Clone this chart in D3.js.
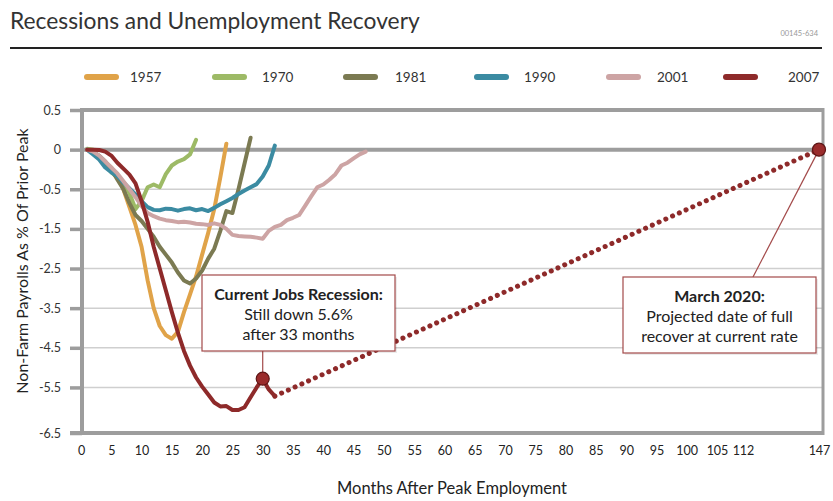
<!DOCTYPE html>
<html>
<head>
<meta charset="utf-8">
<script src="https://cdn.jsdelivr.net/npm/d3@7"></script>
<style>
  body { margin: 0; background: #fff; }
  svg { font-family: Lato, 'Open Sans', sans-serif; }
</style>
</head>
<body>
<svg id="canvas"></svg>
<script>
// each array starts at month 1 after the peak (value i -> month i + 1)
let y1957 = [0, -0.08, -0.2, -0.32, -0.45, -0.65, -1.0, -1.45, -1.9, -2.45, -3.3, -4.0, -4.45, -4.68, -4.77, -4.6, -4.1, -3.65, -3.2, -2.65, -2.1, -1.5, -0.7, 0.15];
let y1970 = [0.02, 0, -0.2, -0.38, -0.57, -0.7, -0.85, -1.1, -1.5, -1.3, -0.95, -0.88, -0.95, -0.62, -0.4, -0.3, -0.24, -0.12, 0.25];
let y1981 = [0, -0.05, -0.15, -0.3, -0.5, -0.75, -1.0, -1.35, -1.65, -1.8, -2.0, -2.2, -2.45, -2.65, -2.85, -3.1, -3.3, -3.38, -3.25, -3.05, -2.75, -2.5, -2.05, -1.55, -1.6, -1.0, -0.35, 0.3];
let y1990 = [0, -0.12, -0.25, -0.45, -0.57, -0.67, -0.83, -0.98, -1.13, -1.3, -1.45, -1.52, -1.53, -1.49, -1.5, -1.54, -1.5, -1.48, -1.53, -1.5, -1.55, -1.47, -1.38, -1.3, -1.22, -1.12, -1.03, -0.95, -0.87, -0.68, -0.4, 0.1];
let y2001 = [0, -0.05, -0.15, -0.3, -0.45, -0.6, -0.8, -1.0, -1.2, -1.42, -1.6, -1.68, -1.74, -1.78, -1.8, -1.83, -1.82, -1.84, -1.87, -1.88, -1.9, -1.86, -1.9, -2.0, -2.15, -2.18, -2.19, -2.2, -2.22, -2.25, -2.05, -1.95, -1.9, -1.78, -1.72, -1.65, -1.42, -1.18, -0.95, -0.88, -0.76, -0.62, -0.4, -0.33, -0.22, -0.12, -0.05];
let y2007 = [0, 0, -0.01, -0.05, -0.15, -0.33, -0.48, -0.63, -0.85, -1.3, -1.82, -2.45, -3.0, -3.55, -4.1, -4.62, -5.08, -5.45, -5.75, -5.98, -6.18, -6.38, -6.48, -6.47, -6.57, -6.57, -6.5, -6.25, -6.0, -5.78, -6.05, -6.22];

let seriesNames = ['1957', '1970', '1981', '1990', '2001', '2007'];
let seriesValues = [y1957, y1970, y1981, y1990, y2001, y2007];
let seriesColors = ['#e0a349', '#9dba66', '#7b7a52', '#3b8ba2', '#cda4a4', '#8e2a2a'];

let xTicks = [0, 5, 10, 15, 20, 25, 30, 35, 40, 45, 50, 55, 60, 65, 70, 75, 80, 85, 90, 95, 100, 105, 112, 147];
let yTicks = [1, 0, -1, -2, -3, -4, -5, -6, -7.15];
let yTickLabels = ['0.5', '0', '-0.5', '-1.5', '-2.5', '-3.5', '-4.5', '-5.5', '-6.5'];

let currentMonth = 30;
let recoveryMonth = 147;

let width = 833;
let height = 501;
let plotLeft = 82;
let plotRight = 823;
let plotTop = 110;
let plotBottom = 433;

let canvas = d3.select('#canvas').attr('width', width).attr('height', height);

let xScale = d3.scaleLinear().domain([0, 105, 112, 147]).range([81, 717, 743, 819]);
let yScale = d3.scaleLinear().domain([1, -7.15]).range([plotTop, plotBottom]);

// title block
canvas.append('text').attr('x', 10).attr('y', 29)
	.attr('font-size', 22.8).attr('fill', '#333')
	.text('Recessions and Unemployment Recovery');
canvas.append('text').attr('x', 818).attr('y', 36).attr('text-anchor', 'end')
	.attr('font-size', 7.5).attr('fill', '#999').text('00145-634');
canvas.append('line').attr('x1', 10).attr('x2', 822).attr('y1', 48).attr('y2', 48)
	.attr('stroke', '#222').attr('stroke-width', 2);

// legend
let legendX = [84, 212, 343, 474, 606, 723];
let legendTextX = [130, 262, 395, 524, 657, 788];
let legend = canvas.append('g');
seriesNames.forEach((name, i) => {
	legend.append('line')
		.attr('x1', legendX[i] + 3).attr('x2', legendX[i] + 32)
		.attr('y1', 77).attr('y2', 77)
		.attr('stroke', seriesColors[i]).attr('stroke-width', 6)
		.attr('stroke-linecap', 'round');
	legend.append('text').attr('x', legendTextX[i]).attr('y', 82)
		.attr('font-size', 13.5).attr('fill', '#333').text(name);
});

// gridlines
canvas.append('g').selectAll('line')
	.data(yTicks)
	.join('line')
	.attr('x1', plotLeft).attr('x2', plotRight)
	.attr('y1', d => yScale(d)).attr('y2', d => yScale(d))
	.attr('stroke', d => (d === 0 || d === yTicks[0]) ? '#9d9d9d' : '#cfcfcf')
	.attr('stroke-width', d => (d === 0 || d === yTicks[0]) ? 4 : 1.5);

// axes
let yAxis = d3.axisLeft(yScale).tickValues(yTicks)
	.tickFormat((d, i) => yTickLabels[i]).tickSize(12).tickPadding(9);
let gy = canvas.append('g').attr('transform', `translate(${plotLeft}, 0)`).call(yAxis);
gy.select('.domain').remove();
gy.selectAll('line').attr('stroke', '#9d9d9d').attr('stroke-width', 3.5);
gy.selectAll('text').attr('font-size', 12.5).attr('fill', '#333').attr('font-family', 'Lato, sans-serif');

let xAxis = d3.axisBottom(xScale).tickValues(xTicks).tickSize(0).tickPadding(13);
let gx = canvas.append('g').attr('transform', `translate(0, ${plotBottom})`).call(xAxis);
gx.select('.domain').remove();
gx.selectAll('text').attr('font-size', 12.5).attr('fill', '#222').attr('font-family', 'Lato, sans-serif');

// frame
canvas.append('line').attr('x1', plotLeft).attr('x2', plotLeft).attr('y1', plotTop - 2).attr('y2', plotBottom + 2)
	.attr('stroke', '#9d9d9d').attr('stroke-width', 4);
canvas.append('line').attr('x1', plotRight).attr('x2', plotRight).attr('y1', plotTop - 2).attr('y2', plotBottom + 2)
	.attr('stroke', '#9d9d9d').attr('stroke-width', 3);
canvas.append('line').attr('x1', 70).attr('x2', plotRight + 1).attr('y1', plotBottom).attr('y2', plotBottom)
	.attr('stroke', '#9d9d9d').attr('stroke-width', 4);

// axis titles
canvas.append('text').attr('x', 452).attr('y', 494).attr('text-anchor', 'middle')
	.attr('font-size', 16.5).attr('fill', '#222').text('Months After Peak Employment');
canvas.append('text').attr('transform', 'translate(28, 261) rotate(-90)').attr('text-anchor', 'middle')
	.attr('font-size', 16).attr('fill', '#222').text('Non-Farm Payrolls As % Of Prior Peak');

// projection to full recovery
let lastMonth = y2007.length;
let projection = [[lastMonth, y2007[lastMonth - 1]], [recoveryMonth, 0]];
canvas.append('path')
	.attr('d', d3.line().x(d => xScale(d[0])).y(d => yScale(d[1]))(projection))
	.attr('fill', 'none').attr('stroke', '#8e2a2a').attr('stroke-width', 5)
	.attr('stroke-linecap', 'round').attr('stroke-dasharray', '0.1 7.3');

// series lines
let line = d3.line().x((d, i) => xScale(i + 1)).y(d => yScale(d));
canvas.append('g').selectAll('path')
	.data(seriesValues)
	.join('path')
	.attr('d', d => line(d))
	.attr('fill', 'none')
	.attr('stroke', (d, i) => seriesColors[i])
	.attr('stroke-width', 4)
	.attr('stroke-linejoin', 'round')
	.attr('stroke-linecap', 'round');

// annotations
let boxStroke = '#a34a4a';
let cx = xScale(currentMonth);
let cy = yScale(y2007[currentMonth - 1]);
canvas.append('line').attr('x1', cx).attr('x2', cx).attr('y1', 351).attr('y2', cy)
	.attr('stroke', boxStroke).attr('stroke-width', 1.2);
let rx = xScale(recoveryMonth);
let ry = yScale(0);
canvas.append('line').attr('x1', 753).attr('x2', rx).attr('y1', 277).attr('y2', ry)
	.attr('stroke', boxStroke).attr('stroke-width', 1.2);

let drawBox = (bx, by, lines) => {
	canvas.append('rect').attr('x', bx + 2).attr('y', by + 2).attr('width', 193).attr('height', 76)
		.attr('fill', '#000').attr('opacity', 0.08);
	canvas.append('rect').attr('x', bx).attr('y', by).attr('width', 193).attr('height', 76)
		.attr('fill', '#fff').attr('stroke', boxStroke).attr('stroke-width', 1.2);
	lines.forEach((t, i) => {
		canvas.append('text').attr('x', bx + 96.5).attr('y', by + 24.5 + i * 20)
			.attr('text-anchor', 'middle').attr('font-size', 16)
			.attr('font-weight', i === 0 ? 'bold' : 'normal')
			.attr('fill', '#222').text(t);
	});
};
drawBox(202, 275, ['Current Jobs Recession:', 'Still down 5.6%', 'after 33 months']);
drawBox(623, 277, ['March 2020:', 'Projected date of full', 'recover at current rate']);

// markers
[[cx, cy], [rx, ry]].forEach(p => {
	canvas.append('circle').attr('cx', p[0]).attr('cy', p[1]).attr('r', 6.5)
		.attr('fill', '#9a2c2c').attr('stroke', '#5e1616').attr('stroke-width', 1.2);
});
</script>
</body>
</html>
